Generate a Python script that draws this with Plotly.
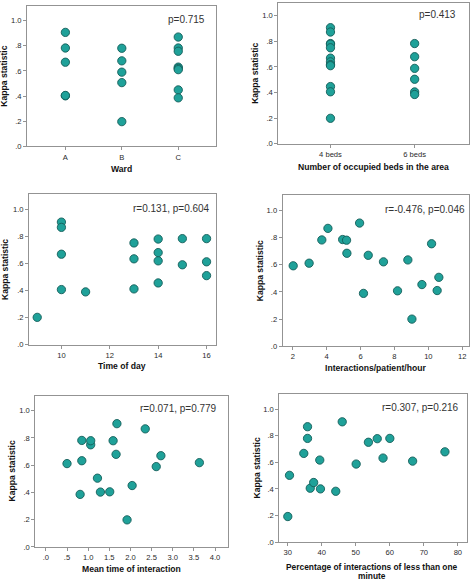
import plotly.graph_objects as go

W, H = 472, 585
FONT = "Liberation Sans"

# ---------------- data ----------------
kappa_ticks = [0, 0.2, 0.4, 0.6, 0.8, 1.0]
kappa_ticktext = [".0", ".2", ".4", ".6", ".8", "1.0"]

ward_cats = ["A", "B", "C"]
ward_A = [0.906, 0.782, 0.669, 0.402, 0.405]
ward_B = [0.780, 0.680, 0.590, 0.507, 0.197]
ward_C = [0.869, 0.782, 0.756, 0.630, 0.620, 0.610, 0.449, 0.386]

beds_cats = ["4 beds", "6 beds"]
beds_4 = [0.907, 0.873, 0.783, 0.778, 0.750, 0.669, 0.640, 0.618, 0.610, 0.447, 0.406, 0.199]
beds_6 = [0.783, 0.680, 0.589, 0.504, 0.405, 0.385]

time_x = [9, 10, 10, 10, 10, 11, 13, 13, 13, 14, 14, 14, 14, 15, 15, 16, 16, 16]
time_y = [0.202, 0.905, 0.866, 0.668, 0.407, 0.390, 0.751, 0.634, 0.412,
          0.780, 0.680, 0.619, 0.456, 0.783, 0.590, 0.783, 0.612, 0.510]

inter_x = [2.02, 2.96, 3.71, 4.07, 4.94, 5.17, 5.19, 5.94, 6.17, 6.45, 7.35, 8.18,
           8.79, 9.03, 9.62, 10.19, 10.52, 10.62]
inter_y = [0.592, 0.611, 0.782, 0.867, 0.785, 0.780, 0.684, 0.906, 0.389, 0.669, 0.621, 0.408,
           0.635, 0.200, 0.454, 0.754, 0.410, 0.507]

mean_x = [0.50, 0.81, 0.85, 0.85, 1.06, 1.06, 1.22, 1.29, 1.51, 1.59, 1.66, 1.68,
          1.92, 2.04, 2.35, 2.61, 2.72, 3.63]
mean_y = [0.612, 0.386, 0.782, 0.633, 0.750, 0.780, 0.505, 0.403, 0.405, 0.780, 0.680, 0.905,
          0.199, 0.451, 0.867, 0.590, 0.670, 0.619]
mean_ticks = [0, 0.5, 1.0, 1.5, 2.0, 2.5, 3.0, 3.5, 4.0]
mean_ticktext = [".0", ".5", "1.0", "1.5", "2.0", "2.5", "3.0", "3.5", "4.0"]

pct_x = [30.0, 30.5, 34.7, 35.8, 35.8, 36.6, 37.6, 39.4, 39.6, 44.1, 46.0, 50.1,
         53.7, 56.3, 58.0, 60.0, 66.7, 76.2]
pct_y = [0.192, 0.502, 0.667, 0.868, 0.780, 0.405, 0.448, 0.617, 0.400, 0.382, 0.905, 0.587,
         0.751, 0.778, 0.632, 0.780, 0.609, 0.679]

stats = ["p=0.715", "p=0.413", "r=0.131, p=0.604", "r=-0.476, p=0.046",
         "r=0.071, p=0.779", "r=0.307, p=0.216"]
x_titles = ["Ward", "Number of occupied beds in the area", "Time of day",
            "Interactions/patient/hour", "Mean time of interaction",
            "Percentage of interactions of less than one<br>minute"]
y_title = "Kappa statistic"

# ---------------- layout geometry (pixels) ----------------
# left, right, top, bottom of each plot frame
frames = [
    (27, 215.5, 6, 147.7),
    (278.3, 468.5, 3, 145),
    (29, 215.5, 196, 347.7),
    (282.7, 469, 197, 349.3),
    (35.3, 227.7, 399.3, 551.7),
    (279.3, 466.7, 397.3, 546.7),
]
x_ranges = [[-0.68, 2.66], [-0.62, 1.64], [8.66, 16.37], [1.4, 12.4], [-0.25, 4.3], [27.5, 82.6]]
y_tops = [1.116, 1.10, 1.11, 1.11, 1.109, 1.115]
x_title_y = [170.7, 168.3, 369, 371, 574.3, None]
y_title_x = [4.5, 255.5, 4.5, 259.5, 12, 256.5]
stat_pos = [(207, 19.3), (457.5, 15), (211.5, 210), (466.7, 211.7), (219, 412.3), (461.3, 411)]

MARK = dict(size=8.3, color="#1fa199", line=dict(color="#145e59", width=0.9))
LINE = "#939393"

fig = go.Figure()

def add_scatter(i, x, y):
    ax = "" if i == 0 else str(i + 1)
    fig.add_trace(go.Scatter(x=x, y=y, mode="markers", marker=MARK,
                             xaxis="x" + ax, yaxis="y" + ax, showlegend=False,
                             hoverinfo="x+y"))

add_scatter(0, [0] * len(ward_A) + [1] * len(ward_B) + [2] * len(ward_C), ward_A + ward_B + ward_C)
add_scatter(1, [0] * len(beds_4) + [1] * len(beds_6), beds_4 + beds_6)
add_scatter(2, time_x, time_y)
add_scatter(3, inter_x, inter_y)
add_scatter(4, mean_x, mean_y)
add_scatter(5, pct_x, pct_y)

x_tickvals = [[0, 1, 2], [0, 1], [10, 12, 14, 16], [2, 4, 6, 8, 10, 12], mean_ticks, [30, 40, 50, 60, 70, 80]]
x_ticktext = [ward_cats, beds_cats, ["10", "12", "14", "16"], ["2", "4", "6", "8", "10", "12"],
              mean_ticktext, ["30", "40", "50", "60", "70", "80"]]

tickfont = dict(family=FONT, size=7.6, color="#2a2a2a")
layout = dict(width=W, height=H, margin=dict(l=0, r=0, t=0, b=0),
              paper_bgcolor="white", plot_bgcolor="white",
              font=dict(family=FONT), annotations=[])

for i, (l, r, t, b) in enumerate(frames):
    ax = "" if i == 0 else str(i + 1)
    common = dict(showline=True, mirror=True, linecolor=LINE, linewidth=1,
                  ticks="outside", ticklen=3, tickcolor=LINE, tickwidth=1,
                  showgrid=False, zeroline=False, tickfont=tickfont, fixedrange=True)
    layout["xaxis" + ax] = dict(domain=[l / W, r / W], anchor="y" + ax,
                                range=x_ranges[i], tickmode="array",
                                tickvals=x_tickvals[i], ticktext=x_ticktext[i], **common)
    layout["yaxis" + ax] = dict(domain=[1 - b / H, 1 - t / H], anchor="x" + ax,
                                range=[0, y_tops[i]], tickmode="array",
                                tickvals=kappa_ticks, ticktext=kappa_ticktext, **common)
    cx = (l + r) / 2
    cy = (t + b) / 2
    # stat annotation
    sx, sy = stat_pos[i]
    layout["annotations"].append(dict(text=stats[i], x=sx / W, y=1 - sy / H, xref="paper", yref="paper",
                                      xanchor="right", yanchor="middle", showarrow=False,
                                      font=dict(family=FONT, size=10, color="#333333")))
    # y title
    layout["annotations"].append(dict(text="<b>" + y_title + "</b>", x=y_title_x[i] / W, y=1 - cy / H,
                                      xref="paper", yref="paper", xanchor="center", yanchor="middle",
                                      textangle=-90, showarrow=False,
                                      font=dict(family=FONT, size=8.6, color="#111111")))
    # x title
    if x_title_y[i] is not None:
        layout["annotations"].append(dict(text="<b>" + x_titles[i] + "</b>", x=cx / W, y=1 - x_title_y[i] / H,
                                          xref="paper", yref="paper", xanchor="center", yanchor="middle",
                                          showarrow=False, font=dict(family=FONT, size=8.6, color="#111111")))
    else:
        for k, (line_txt, ly) in enumerate(zip(x_titles[i].split("<br>"), [571.6, 581.2])):
            layout["annotations"].append(dict(text="<b>" + line_txt + "</b>", x=(cx - 1) / W, y=1 - ly / H,
                                              xref="paper", yref="paper", xanchor="center", yanchor="middle",
                                              showarrow=False, font=dict(family=FONT, size=8.4, color="#111111")))

fig.update_layout(**layout)
fig.write_html("out.html", config={"displayModeBar": False},
               post_script="document.body.style.margin='0';document.body.style.overflow='hidden';")
